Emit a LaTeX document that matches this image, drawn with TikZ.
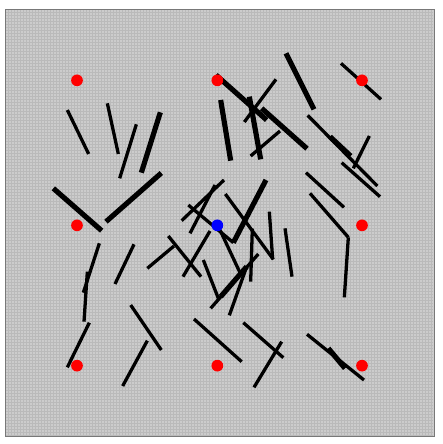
\documentclass[tikz,border=0pt]{standalone}
\definecolor{boardgray}{RGB}{204,204,204}
\definecolor{gridgray}{RGB}{186,186,186}
\definecolor{framegray}{RGB}{120,120,120}
\definecolor{sitered}{RGB}{255,0,0}
\definecolor{centerblue}{RGB}{0,0,255}
\tikzset{
	board/.style={draw=framegray, line width=0.8pt, fill=boardgray},
	gridline/.style={draw=gridgray, line width=0.35pt},
	stick/.style={draw=black, line width=2.8pt},
	thickstick/.style={draw=black, line width=4.4pt},
	site/.style={circle, fill=sitered, inner sep=0pt, minimum size=10pt},
	hub/.style={circle, fill=centerblue, inner sep=0pt, minimum size=10pt},
}
\begin{document}
\begin{tikzpicture}[x=0.01cm, y=-0.01cm]
	\useasboundingbox (0,0) rectangle (1329,1332);
	% board and its dotted texture
	\path[board] (17,27) rectangle (1302,1310);
	\foreach \g in {26,35,...,1300} {
		\draw[gridline] (\g,29) -- (\g,1308);
		\draw[gridline] (19,\g+10) -- (1300,\g+10);
	}
	\draw[framegray, line width=0.8pt] (17,27) rectangle (1302,1310);
	% thin sticks
	\foreach \ax/\ay/\bx/\by in {
		202/330/266/462, 322/310/355/462, 409/373/359/535, 828/238/733/366,
		840/393/752/468, 1108/408/1060/505, 1025/488/1140/590, 918/518/1032/622,
		930/580/1045/712, 1045/712/1033/892, 855/685/876/830, 672/540/545/662,
		645/555/570/700, 565/615/700/728, 676/582/820/778, 808/635/818/778,
		757/686/752/845, 505/708/603/830, 442/805/522/738, 630/693/549/830,
		610/780/655/895, 660/690/720/818, 775/762/632/925, 740/800/688/946,
		298/730/250/878, 262/815/252/965, 268/968/202/1102, 402/733/345/852,
		392/915/484/1050, 442/1022/368/1158, 582/957/725/1085, 730/968/850/1073,
		845/1025/762/1162, 921/1003/1092/1140, 1023/190/1143/298, 923/346/1132/558}
		\draw[stick] (\ax,\ay) -- (\bx,\by);
	% thick sticks
	\foreach \ax/\ay/\bx/\by in {
		481/337/424/518, 160/565/305/692, 484/519/318/665, 662/300/692/482,
		748/290/782/478, 648/225/800/360, 785/325/921/446, 858/160/942/328,
		798/540/700/728, 740/800/662/890, 985/1045/1035/1105, 990/410/1052/468}
		\draw[thickstick] (\ax,\ay) -- (\bx,\by);
	% sites
	\foreach \sx/\sy [count=\i] in {231/241, 652/241, 1086/241, 231/676, 1086/676, 231/1097, 652/1097, 1086/1097}
		\node[site] (site\i) at (\sx,\sy) {};
	\node[hub] (hub) at (652,676) {};
\end{tikzpicture}
\end{document}
